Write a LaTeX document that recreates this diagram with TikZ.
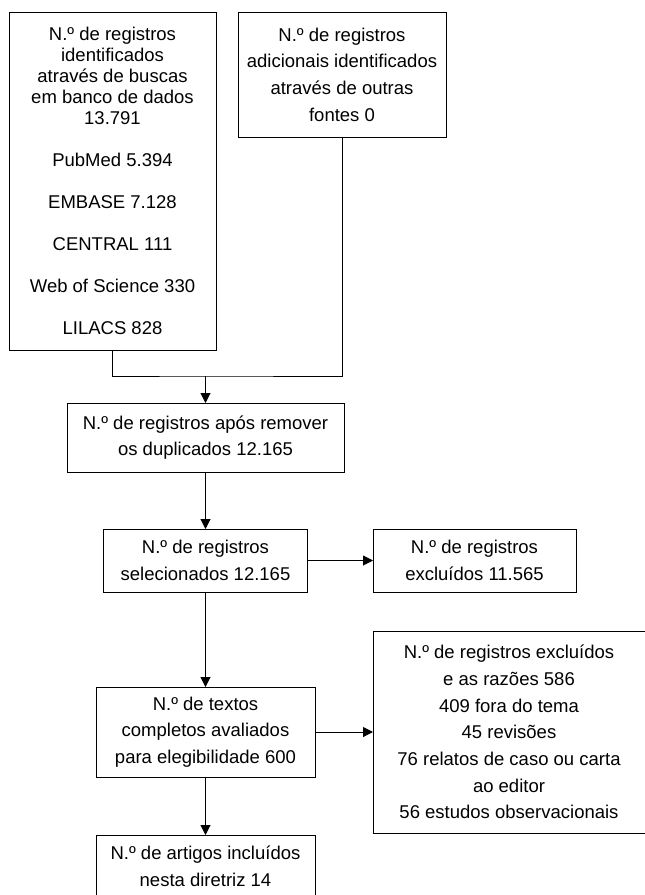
\documentclass[tikz,border=0pt]{standalone}
\usepackage{fontspec}
\setmainfont{Liberation Sans}
\usetikzlibrary{arrows.meta}
\tikzset{
  box/.style={draw=black, line width=1pt, inner sep=0pt, outer sep=0pt, align=center,
    font=\fontsize{18.5}{26.7}\selectfont, text=black},
  tight/.style={font=\fontsize{18.5}{21}\selectfont},
  link/.style={draw=black, line width=1pt},
  arr/.style={link, -{Triangle[length=10pt,width=10pt]}}
}
\begin{document}
\begin{tikzpicture}[x=1pt,y=-1pt]
\fill[white] (0,0) rectangle (645,895);
\useasboundingbox (0,0) rectangle (645,895);

\node[box, tight, minimum width=207pt, minimum height=338pt] (b1) at (112.5,181)
  {N.º de registros\\identificados\\através de buscas\\em banco de dados\\13.791\\[21pt]
   PubMed 5.394\\[21pt]EMBASE 7.128\\[21pt]CENTRAL 111\\[21pt]Web of Science 330\\[21pt]LILACS 828};
\node[box, minimum width=208pt, minimum height=125pt] (b2) at (342,74.5)
  {N.º de registros\\adicionais identificados\\através de outras\\fontes 0};
\node[box, minimum width=277pt, minimum height=69pt] (b3) at (205.5,437.5)
  {N.º de registros após remover\\os duplicados 12.165};
\node[box, minimum width=204pt, minimum height=63pt] (b4) at (205.5,560.5)
  {N.º de registros\\selecionados 12.165};
\node[box, minimum width=203pt, minimum height=63pt] (b5) at (474.5,560.5)
  {N.º de registros\\excluídos 11.565};
\node[box, minimum width=219pt, minimum height=90pt] (b6) at (205.5,732)
  {N.º de textos\\completos avaliados\\para elegibilidade 600};
\node[box, minimum width=272pt, minimum height=202pt] (b7) at (509,732)
  {N.º de registros excluídos\\e as razões 586\\409 fora do tema\\45 revisões\\76 relatos de caso ou carta\\ao editor\\56 estudos observacionais};
\node[box, minimum width=219pt, minimum height=62pt] (b8) at (205.5,866)
  {N.º de artigos incluídos\\nesta diretriz 14};

\coordinate (j) at (205.5,376);
\draw[link] (b1.south) |- (j) -| (b2.south);
\draw[arr] (j) -- (b3.north);
\draw[arr] (b3) -- (b4);
\draw[arr] (b4) -- (b5);
\draw[arr] (b4) -- (b6);
\draw[arr] (b6) -- (b7);
\draw[arr] (b6) -- (b8);
\end{tikzpicture}
\end{document}
